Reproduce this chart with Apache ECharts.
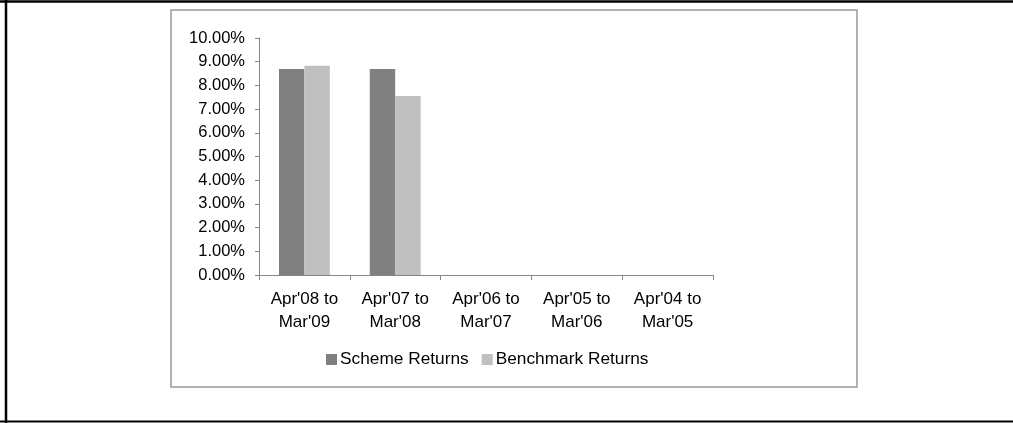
<!DOCTYPE html>
<html lang="en">
<head>
    <meta charset="UTF-8">
    <title>Scheme vs Benchmark Returns</title>
    <script src="https://cdn.jsdelivr.net/npm/echarts@6/dist/echarts.min.js"></script>
    <style>
        html, body {margin: 0; padding: 0; background: #fff;}
        #chart {width: 1013px; height: 423px;}
    </style>
</head>
<body>
<div id="chart"></div>
<script>
    // periods (x axis) and returns in percent
    const periods = ["Apr'08 to\nMar'09", "Apr'07 to\nMar'08", "Apr'06 to\nMar'07", "Apr'05 to\nMar'06", "Apr'04 to\nMar'05"];
    const schemeReturns = [8.69, 8.69, null, null, null];
    const benchmarkReturns = [8.83, 7.55, null, null, null];
    const seriesNames = ['Scheme Returns', 'Benchmark Returns'];

    const font = '"Liberation Sans", Arial, sans-serif';
    let myChart = echarts.init(document.getElementById('chart'), null, {renderer: 'canvas'});

    let myOption = {
        animation: false,
        backgroundColor: '#fff',
        textStyle: {fontFamily: font},
        grid: {left: 259, right: 300, top: 38, bottom: 148},
        legend: {
            left: 326,
            top: 351,
            padding: 0,
            itemWidth: 11,
            itemHeight: 11,
            itemGap: 13,
            icon: 'rect',
            textStyle: {fontSize: 17.3, color: '#000', fontFamily: font, padding: [0, 0, 0, -2]},
            data: seriesNames
        },
        xAxis: {
            type: 'category',
            data: periods,
            axisLine: {lineStyle: {color: '#868686', width: 1}},
            axisTick: {show: true, alignWithLabel: false, length: 5, lineStyle: {color: '#868686'}},
            axisLabel: {color: '#000', fontSize: 17, lineHeight: 23, margin: 13, interval: 0, fontFamily: font}
        },
        yAxis: {
            type: 'value',
            min: 0,
            max: 10,
            interval: 1,
            axisLine: {show: true, lineStyle: {color: '#868686', width: 1}},
            axisTick: {show: true, length: 4, lineStyle: {color: '#868686'}},
            splitLine: {show: false},
            axisLabel: {
                color: '#000', fontSize: 16.5, margin: 14, fontFamily: font,
                formatter: function (v) { return v.toFixed(2) + '%'; }
            }
        },
        series: [
            {
                name: seriesNames[0],
                type: 'bar',
                data: schemeReturns,
                itemStyle: {color: '#808080'},
                barGap: '0%',
                barCategoryGap: '44%'
            },
            {
                name: seriesNames[1],
                type: 'bar',
                data: benchmarkReturns,
                itemStyle: {color: '#c0c0c0'}
            }
        ],
        graphic: [
            // outer page frame
            {type: 'line', shape: {x1: 0, y1: 1.5, x2: 1013, y2: 1.5}, style: {stroke: '#000', lineWidth: 2.5}},
            {type: 'line', shape: {x1: 6, y1: 0, x2: 6, y2: 423}, style: {stroke: '#000', lineWidth: 2.5}},
            {type: 'line', shape: {x1: 0, y1: 421.5, x2: 1013, y2: 421.5}, style: {stroke: '#000', lineWidth: 2}},
            // chart area frame
            {type: 'rect', shape: {x: 171, y: 10, width: 686, height: 377}, style: {fill: 'none', stroke: '#999', lineWidth: 1.5}}
        ]
    };
    myChart.setOption(myOption);
</script>
</body>
</html>
